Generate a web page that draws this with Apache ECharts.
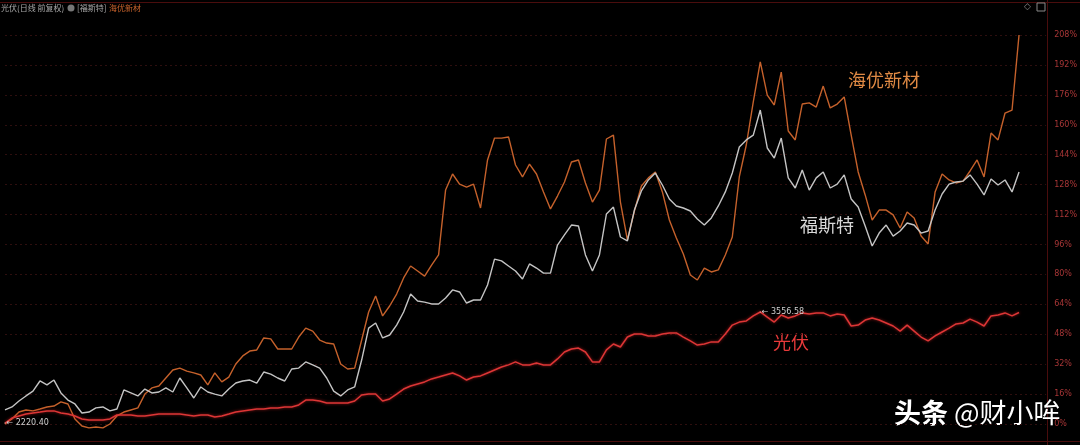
<!DOCTYPE html>
<html><head><meta charset="utf-8">
<script src="https://cdn.jsdelivr.net/npm/echarts@6/dist/echarts.min.js"></script>
<style>html,body{margin:0;padding:0;background:#000}#c{width:1080px;height:445px}</style>
</head><body><div id="c"></div>
<script>
// 光伏 (index, % change since start)
const guangfu = [0.5,3.2,4.3,5.3,5.9,6.4,7.0,7.0,5.9,5.3,4.3,2.7,2.1,2.1,2.1,2.7,4.8,4.8,4.8,4.3,
4.3,4.8,5.3,5.3,5.3,5.3,4.8,4.3,4.8,4.8,3.7,4.3,5.3,6.4,7.0,7.5,8.0,8.0,8.6,8.6,
9.1,9.1,10.2,12.8,12.8,12.3,11.2,11.2,11.2,11.2,12.3,15.5,16.0,16.0,12.3,13.4,16.0,18.7,20.3,21.4,
22.5,24.1,25.1,26.2,27.3,25.7,23.5,25.1,25.7,27.3,28.9,30.5,31.6,33.2,31.6,31.6,32.6,31.6,31.6,34.8,
38.5,40.1,40.6,38.5,33.2,33.2,39.6,42.8,41.2,46.5,48.1,48.1,47.1,47.1,48.1,48.7,48.7,46.5,44.4,42.2,
42.8,43.9,43.9,48.1,52.9,54.5,55.1,57.8,59.9,57.2,54.5,58.3,56.7,57.8,59.4,58.8,59.4,59.4,57.8,58.8,
58.3,52.4,52.9,55.6,56.7,55.6,54.0,52.4,49.7,52.9,49.7,46.5,44.4,47.1,49.2,51.3,53.5,54.0,56.1,54.5,
52.4,57.8,58.3,59.4,57.8,59.6];
// 福斯特
const fosite = [7.5,9.1,12.3,15.0,17.6,23.0,20.9,23.5,16.6,12.8,10.7,5.9,6.4,8.6,9.1,7.0,8.0,18.2,16.6,15.0,
18.7,16.6,17.1,19.3,17.1,24.6,19.3,13.9,19.8,17.1,16.0,15.0,18.7,21.9,23.0,23.5,21.9,27.8,26.7,24.6,
23.0,29.4,29.9,33.2,31.6,29.9,24.6,17.6,15.0,18.2,19.8,34.2,51.3,54.0,46.0,47.6,52.9,59.9,69.5,65.8,
65.2,64.2,64.2,67.4,71.7,70.6,64.7,66.3,66.3,74.3,88.2,87.2,84.5,81.8,77.5,85.6,83.4,80.7,80.7,95.7,
101.1,106.4,105.9,90.4,81.8,90.4,112.3,116.0,100.0,97.9,114.4,124.6,130.5,134.2,127.8,120.3,116.6,115.5,113.9,109.6,
106.4,110.2,116.6,124.1,134.2,148.1,151.9,154.5,167.9,147.6,142.2,152.9,131.6,126.2,135.8,125.1,131.6,134.8,126.2,128.3,
133.2,120.3,116.0,105.9,95.2,102.1,106.4,100.5,103.2,107.5,106.4,102.1,103.2,114.4,123.0,128.3,129.4,129.9,133.2,128.3,
122.5,131.0,127.8,130.5,124.1,134.8];
// 海优新材
const haiyou = [0,2.7,6.4,7.5,7.0,8.0,9.1,9.6,11.8,10.7,2.7,-1.1,-2.1,-1.6,-2.1,0,4.3,6.4,7.5,8.6,
16.0,19.3,20.3,24.6,28.9,29.9,28.3,27.3,26.2,20.9,27.3,22.5,25.1,32.1,36.4,39.0,39.6,46.0,45.5,40.1,
40.1,40.1,46.5,51.3,49.7,44.9,43.3,42.8,32.1,29.4,29.9,44.9,59.9,68.4,57.8,63.1,69.5,78.1,84.5,81.8,
79.1,85.0,90.4,125.1,133.7,128.3,126.7,128.3,115.5,141.2,152.9,152.9,153.5,138.5,132.1,139.0,133.7,124.1,115.0,121.9,
129.4,140.1,141.2,128.9,118.7,125.1,152.4,154.5,118.7,98.4,113.9,127.3,131.6,134.8,124.1,109.1,99.5,90.9,79.7,77.0,
83.4,81.3,82.4,90.4,100.0,132.1,149.2,172.2,193.6,175.9,170.6,188.2,156.7,151.9,171.1,171.7,169.5,180.7,169.0,171.1,
174.9,154.5,134.8,122.5,109.1,114.4,114.4,111.8,104.8,113.4,110.2,100.5,96.3,124.1,133.7,130.5,128.9,129.9,135.3,141.2,
132.1,155.6,151.9,166.3,167.9,208.0];
const startLabel = '2220.40';
const peakLabel = '3556.58';
const seriesNames = ['光伏', '福斯特', '海优新材'];

const chart = echarts.init(document.getElementById('c'), null, {renderer: 'canvas'});
const toPairs = a => a.map((v, i) => [i, v]);
const ff = '"Noto Sans CJK SC", "Noto Sans", sans-serif';

chart.setOption({
  backgroundColor: '#000',
  animation: false,
  grid: [
    {left: 5, right: 33, top: 2, bottom: 3},
    {left: 5, right: 33, top: 35, bottom: 21}
  ],
  xAxis: [
    {gridIndex: 0, type: 'value', min: 0, max: 149, show: false},
    {gridIndex: 1, type: 'value', min: 0, max: 1, show: false}
  ],
  yAxis: [
    {gridIndex: 0, type: 'value', min: -9.63, max: 225.67, show: false},
    {gridIndex: 1, type: 'value', min: 0, max: 208, interval: 16, position: 'right',
     axisLine: {show: false}, axisTick: {show: false},
     axisLabel: {color: '#a83636', fontSize: 8, margin: 8, fontFamily: 'DejaVu Sans', formatter: v => v + '%'},
     splitLine: {show: true, lineStyle: {color: '#2e0e0e', type: [2, 3], width: 1}}}
  ],
  series: [
    {name: seriesNames[2], type: 'line', xAxisIndex: 0, yAxisIndex: 0, data: toPairs(haiyou),
     symbol: 'none', lineStyle: {color: '#c5612b', width: 1.4}},
    {name: seriesNames[1], type: 'line', xAxisIndex: 0, yAxisIndex: 0, data: toPairs(fosite),
     symbol: 'none', lineStyle: {color: '#c4c4c4', width: 1.4}},
    {name: seriesNames[0], type: 'line', xAxisIndex: 0, yAxisIndex: 0, data: toPairs(guangfu),
     symbol: 'none', lineStyle: {color: '#dc3636', width: 1.5, shadowColor: 'rgba(255,40,40,0.6)', shadowBlur: 3},
     markPoint: {
       symbol: 'circle', symbolSize: 1,
       itemStyle: {color: '#ddd'},
       data: [
         {type: 'min', label: {show: true, position: 'right', distance: 1, color: '#cfcfcf', fontSize: 8, fontFamily: 'DejaVu Sans', formatter: () => '\u2190 ' + startLabel}},
         {type: 'max', label: {show: true, position: 'right', distance: 1, color: '#cfcfcf', fontSize: 8, fontFamily: 'DejaVu Sans', formatter: () => '\u2190 ' + peakLabel}}
       ]
     }}
  ],
  graphic: [
    {type: 'line', shape: {x1: 0, y1: 2.5, x2: 1080, y2: 2.5}, style: {stroke: '#4a0d0d', lineWidth: 1}, silent: true},
    {type: 'line', shape: {x1: 0, y1: 441.5, x2: 1080, y2: 441.5}, style: {stroke: '#4a0d0d', lineWidth: 1}, silent: true},
    {type: 'line', shape: {x1: 1047.5, y1: 0, x2: 1047.5, y2: 445}, style: {stroke: '#4a0d0d', lineWidth: 1}, silent: true},
    {type: 'text', left: 1, top: 4, style: {text: '光伏(日线 前复权)', fill: '#a8a8a8', font: '8px ' + ff}},
    {type: 'circle', shape: {cx: 71, cy: 8, r: 3.5}, style: {fill: '#777'}},
    {type: 'text', left: 77, top: 4, style: {text: '[福斯特]', fill: '#a8a8a8', font: '8px ' + ff}},
    {type: 'text', left: 109, top: 4, style: {text: '海优新材', fill: '#c8632c', font: '8px ' + ff}},
    {type: 'text', left: 1024, top: 2, style: {text: '◇', fill: '#888', font: '9px DejaVu Sans'}},
    {type: 'rect', shape: {x: 1037, y: 3, width: 8, height: 8}, style: {fill: 'none', stroke: '#888', lineWidth: 1}},
    {type: 'text', left: 848, top: 71, style: {text: seriesNames[2], fill: '#e08a44', font: '18px ' + ff}},
    {type: 'text', left: 800, top: 216, style: {text: seriesNames[1], fill: '#d8d8d8', font: '18px ' + ff}},
    {type: 'text', left: 773, top: 333, style: {text: seriesNames[0], fill: '#e83a3a', font: '18px ' + ff}},
    {type: 'text', left: 894, top: 399, style: {text: '头条', fill: '#ffffff', font: 'bold 27px ' + ff}},
    {type: 'text', left: 954, top: 399, style: {text: '@财小哞', fill: '#ffffff', font: '27px ' + ff}}
  ]
});
</script>
</body></html>
